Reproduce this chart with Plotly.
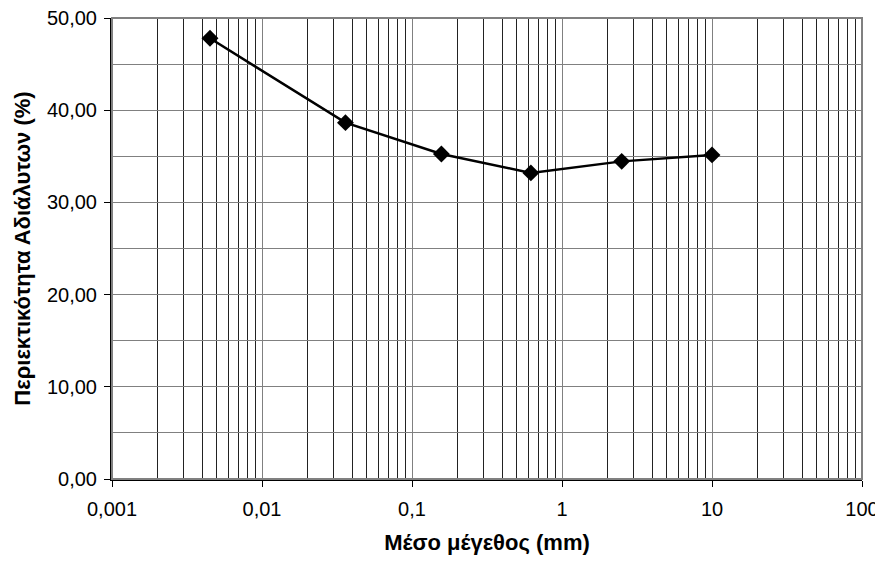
import plotly.graph_objects as go

sizes_mm = [0.0045, 0.036, 0.157, 0.62, 2.5, 10]
insoluble_pct = [47.8, 38.65, 35.25, 33.2, 34.45, 35.15]

x_tick_vals = [0.001, 0.01, 0.1, 1, 10, 100]
x_tick_text = ["0,001", "0,01", "0,1", "1", "10", "100"]
minor_vals = [m * d for d in [0.001, 0.01, 0.1, 1, 10] for m in range(2, 10)]

fig = go.Figure()
fig.add_trace(go.Scatter(
    x=sizes_mm, y=insoluble_pct, mode="lines+markers",
    line=dict(color="black", width=2.5),
    marker=dict(symbol="diamond", size=13, color="black"),
    showlegend=False,
))

font = "Liberation Sans, Arial, sans-serif"
fig.update_layout(
    width=875, height=547,
    margin=dict(l=104, r=21, t=10, b=76),
    paper_bgcolor="white", plot_bgcolor="white",
    separators=", ",
    font=dict(family=font, size=20, color="black"),
    xaxis=dict(
        type="log", range=[-3, 2], automargin=False,
        tickvals=x_tick_vals, ticktext=x_tick_text,
        ticklabeloverflow="allow",
        showgrid=True, gridcolor="#808080", gridwidth=1,
        minor=dict(tickvals=minor_vals, showgrid=True, gridcolor="#222222", gridwidth=1,
                   ticks=""),
        showline=True, linecolor="black", linewidth=2,
        ticks="outside", ticklen=6, tickcolor="black", tickwidth=1,
        ticklabelstandoff=5,
        title=dict(text="<b>Μέσο μέγεθος (mm)</b>", font=dict(size=22), standoff=18),
        zeroline=False,
    ),
    yaxis=dict(
        range=[0, 50], dtick=10, tickformat=".2f", automargin=False,
        ticklabeloverflow="allow",
        showgrid=True, gridcolor="#808080", gridwidth=1,
        minor=dict(dtick=5, showgrid=True, gridcolor="#808080", gridwidth=1),
        showline=True, linecolor="black", linewidth=2,
        ticks="outside", ticklen=6, tickcolor="black", tickwidth=1,
        ticklabelstandoff=3,
        title=dict(text="<b>Περιεκτικότητα Αδιάλυτων (%)</b>", font=dict(size=22), standoff=10),
        zeroline=False,
    ),
    shapes=[dict(type="rect", xref="paper", yref="paper", x0=0, x1=1, y0=0, y1=1,
                 line=dict(color="#808080", width=2), layer="above")],
)

fig.write_html("out.html")
